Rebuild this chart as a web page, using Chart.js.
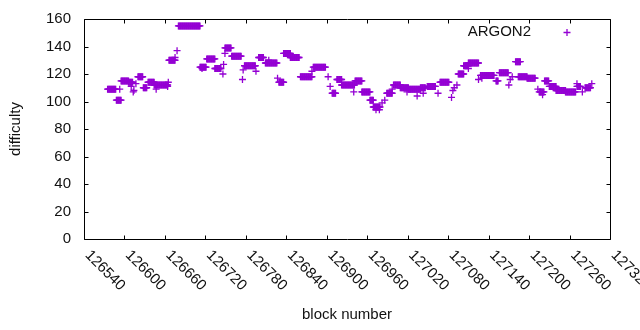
<!DOCTYPE html>
<html>
<head>
<meta charset="utf-8">
<script src="https://cdn.jsdelivr.net/npm/chart.js@4/dist/chart.umd.min.js"></script>
<style>
  html, body { margin: 0; padding: 0; background: #ffffff; }
  #wrap { width: 640px; height: 330px; position: relative; }
</style>
</head>
<body>
<div id="wrap"><canvas id="diff-chart"></canvas></div>
<script>
// difficulty runs: first block, last block, difficulty
const runStart = [126575, 126593, 126588, 126595, 126606, 126610, 126614, 126613, 126617, 126620,
    126628, 126635, 126644, 126647, 126665, 126664, 126666, 126675, 126678, 126680,
    126712, 126715, 126722, 126734, 126746, 126747, 126749, 126749, 126759, 126775,
    126776, 126778, 126795, 126799, 126809, 126814, 126827, 126829, 126836, 126846,
    126861, 126878, 126880, 126902, 126905, 126908, 126915, 126922, 126940, 126942,
    126952, 126964, 126969, 126973, 126978, 126982, 126986, 126989, 126997, 126999,
    127009, 127019, 127021, 127034, 127039, 127043, 127049, 127065, 127068, 127085,
    127087, 127089, 127093, 127095, 127103, 127110, 127110, 127125, 127128, 127130,
    127151, 127156, 127170, 127172, 127175, 127180, 127184, 127197, 127213, 127215,
    127220, 127223, 127230, 127240, 127254, 127271, 127271, 127279, 127283, 127293];
const runEnd = [126587, 126593, 126595, 126606, 126612, 126610, 126614, 126613, 126617, 126627,
    126633, 126644, 126664, 126647, 126665, 126664, 126675, 126675, 126678, 126712,
    126721, 126715, 126734, 126743, 126746, 126747, 126749, 126758, 126773, 126775,
    126776, 126794, 126795, 126806, 126826, 126814, 126827, 126836, 126846, 126859,
    126878, 126878, 126898, 126902, 126905, 126913, 126922, 126941, 126940, 126952,
    126964, 126969, 126979, 126973, 126978, 126982, 126986, 126997, 126997, 127009,
    127021, 127019, 127039, 127034, 127046, 127043, 127061, 127065, 127081, 127085,
    127087, 127089, 127093, 127103, 127110, 127110, 127125, 127125, 127148, 127130,
    127154, 127169, 127170, 127172, 127175, 127187, 127197, 127209, 127213, 127222,
    127220, 127229, 127240, 127254, 127269, 127271, 127276, 127279, 127291, 127293];
const runDifficulty = [109, 109, 101, 115, 114, 111, 108, 107, 113, 118,
    110, 114, 112, 109, 114, 111, 130, 132, 137, 155,
    125, 124, 131, 124, 120, 127, 135, 139, 133, 116,
    123, 126, 122, 132, 128, 130, 117, 114, 135, 132,
    118, 122, 125, 118, 111, 106, 116, 112, 107, 115,
    107, 101, 96, 94, 94, 99, 101, 106, 109, 112,
    110, 107, 109, 104, 110, 106, 111, 106, 114, 103,
    108, 110, 112, 120, 126, 124, 128, 116, 119, 117,
    115, 121, 112, 116, 118, 129, 118, 117, 109, 107,
    105, 115, 111, 108, 107, 113, 111, 107, 110, 113];

// axis ticks
const xTickValues = [126540, 126600, 126660, 126720, 126780, 126840, 126900,
    126960, 127020, 127080, 127140, 127200, 127260, 127320];
const yTickValues = [0, 20, 40, 60, 80, 100, 120, 140, 160];

const seriesName = 'ARGON2';
const seriesColor = '#9400d3';
const fontFamily = '"Liberation Sans", Arial, sans-serif';
const textColor = '#111111';

// one point per block inside each run
function buildPoints() {
    const points = [];
    for (let i = 0; i < runStart.length; i++) {
        for (let b = runStart[i]; b <= runEnd[i]; b++) {
            points.push({ x: b, y: runDifficulty[i] });
        }
    }
    return points;
}

// gnuplot style frame: full border, inward ticks on all sides, rotated x labels, key
const gnuplotFrame = {
    id: 'gnuplotFrame',
    afterDraw(chart) {
        const ctx = chart.ctx;
        const area = chart.chartArea;
        const xs = chart.scales.x;
        const ys = chart.scales.y;
        const L = Math.round(area.left) + 0.5;
        const R = Math.round(area.right) + 0.5;
        const T = Math.round(area.top) + 0.5;
        const B = Math.round(area.bottom) + 0.5;
        const tick = 4;

        ctx.save();
        ctx.strokeStyle = '#000000';
        ctx.lineWidth = 1;
        ctx.beginPath();
        ctx.rect(L, T, R - L, B - T);

        xTickValues.forEach(v => {
            const px = Math.round(xs.getPixelForValue(v)) + 0.5;
            ctx.moveTo(px, B); ctx.lineTo(px, B - tick);
            ctx.moveTo(px, T); ctx.lineTo(px, T + tick);
        });
        yTickValues.forEach(v => {
            const py = Math.round(ys.getPixelForValue(v)) + 0.5;
            ctx.moveTo(L, py); ctx.lineTo(L + tick, py);
            ctx.moveTo(R, py); ctx.lineTo(R - tick, py);
        });
        ctx.stroke();

        // rotated x tick labels
        ctx.fillStyle = textColor;
        ctx.font = '15px ' + fontFamily;
        ctx.textAlign = 'center';
        ctx.textBaseline = 'middle';
        xTickValues.forEach(v => {
            const px = xs.getPixelForValue(v);
            ctx.save();
            ctx.translate(px + 21, area.bottom + 31.5);
            ctx.rotate(Math.PI / 4);
            ctx.fillText(String(v), 0, 0);
            ctx.restore();
        });

        // key, top right
        ctx.textAlign = 'right';
        ctx.fillText(seriesName, 531, 32);
        ctx.strokeStyle = seriesColor;
        ctx.lineWidth = 1.3;
        ctx.beginPath();
        ctx.moveTo(563.5, 32.5); ctx.lineTo(570.5, 32.5);
        ctx.moveTo(567, 29); ctx.lineTo(567, 36);
        ctx.stroke();
        ctx.restore();
    }
};

Chart.defaults.font.family = fontFamily;
Chart.defaults.color = textColor;

const ctx = document.getElementById('diff-chart').getContext('2d');
const diffChart = new Chart(ctx, {
    type: 'scatter',
    data: {
        datasets: [{
            label: seriesName,
            data: buildPoints(),
            pointStyle: 'cross',
            pointRadius: 3.5,
            pointHoverRadius: 3.5,
            borderWidth: 1.3,
            borderColor: seriesColor,
            backgroundColor: seriesColor
        }]
    },
    options: {
        responsive: true,
        maintainAspectRatio: false,
        animation: false,
        events: [],
        layout: {
            padding: { left: 0, right: 30, top: 19, bottom: 0 }
        },
        plugins: {
            legend: { display: false },
            tooltip: { enabled: false }
        },
        scales: {
            x: {
                type: 'linear',
                min: 126540,
                max: 127320,
                grid: { display: false, drawTicks: false },
                border: { display: false },
                ticks: { display: false },
                afterBuildTicks: scale => {
                    scale.ticks = xTickValues.map(v => ({ value: v }));
                },
                afterFit: scale => { scale.height = 91; },
                title: {
                    display: true,
                    text: 'block number',
                    color: textColor,
                    font: { size: 15 },
                    padding: { top: 0, bottom: 6 }
                }
            },
            y: {
                min: 0,
                max: 160,
                grid: { display: false, drawTicks: false },
                border: { display: false },
                afterBuildTicks: scale => {
                    scale.ticks = yTickValues.map(v => ({ value: v }));
                },
                ticks: {
                    padding: 13,
                    color: textColor,
                    font: { size: 15 }
                },
                afterFit: scale => {
                    // keep the plot box where gnuplot put it
                    scale.width = 84;
                    scale.paddingTop = 0;
                    scale.paddingBottom = 0;
                },
                title: {
                    display: true,
                    text: 'difficulty',
                    color: textColor,
                    font: { size: 15 },
                    padding: { top: 7, bottom: 0 }
                }
            }
        }
    },
    plugins: [gnuplotFrame]
});
</script>
</body>
</html>
